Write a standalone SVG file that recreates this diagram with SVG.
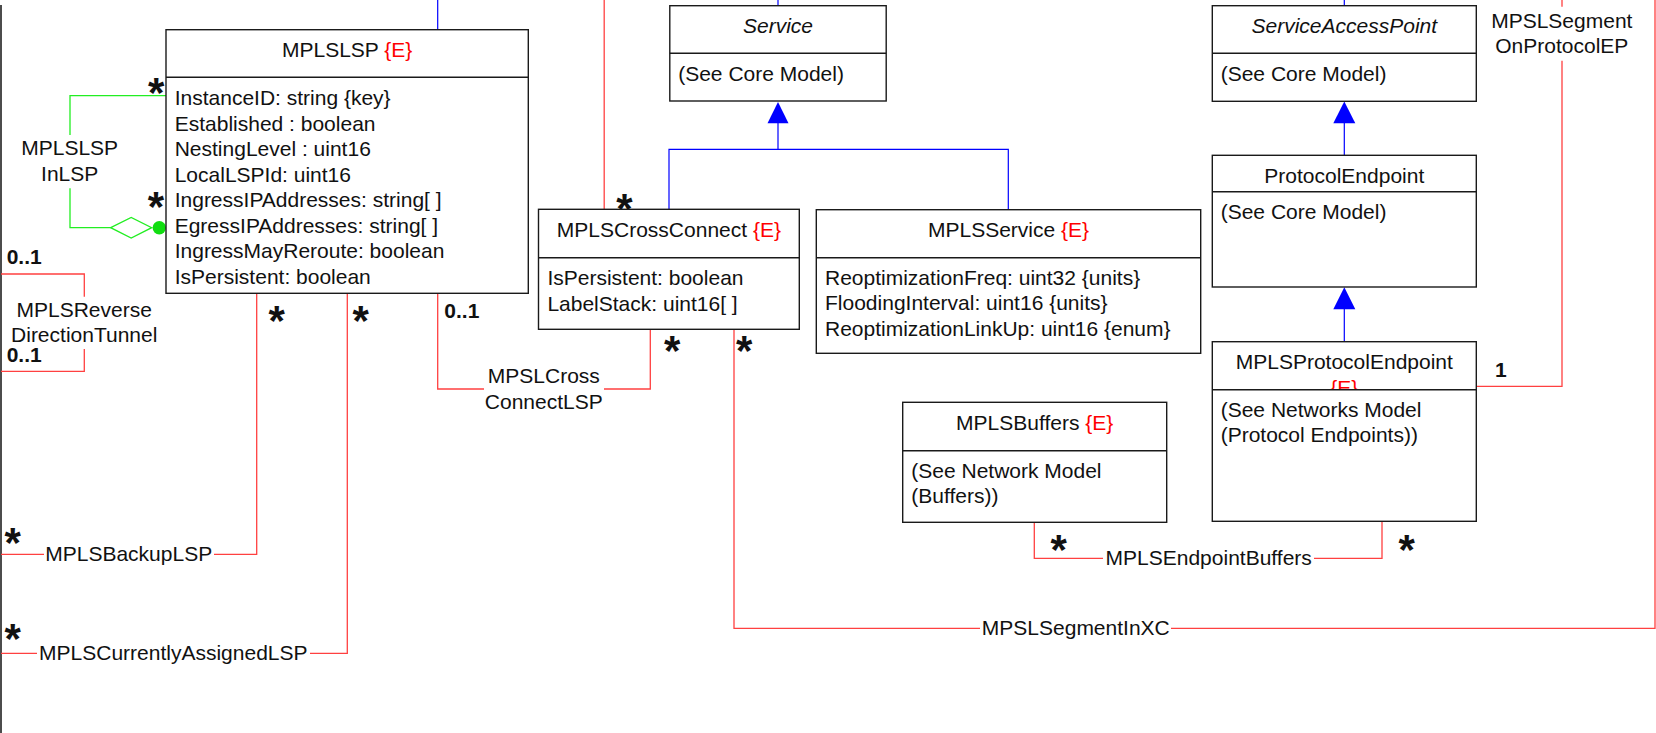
<svg xmlns="http://www.w3.org/2000/svg" width="1656" height="733" viewBox="0 0 1656 733">
<style>
.bg{fill:#fff}
.box{fill:#fff;stroke:#1a1a1a;stroke-width:1.4}
.div{stroke:#1a1a1a;stroke-width:1.4}
.t{font-family:"Liberation Sans",Arial,sans-serif;font-size:21px;fill:#111}
.c{text-anchor:middle}
.i{font-style:italic}
.e{fill:#ff0000}
.m{font-family:"Liberation Sans",Arial,sans-serif;font-size:21px;font-weight:bold;fill:#111}
.star{font-family:"Liberation Sans",Arial,sans-serif;font-size:42px;font-weight:bold;fill:#111;text-anchor:middle}
.red{stroke:#ff4040;stroke-width:1.3;fill:none}
.blue{stroke:#0000ff;stroke-width:1.2;fill:none}
.green{stroke:#22ee22;stroke-width:1.3;fill:none}
.arrow{fill:#0000ff;stroke:none}
</style>
<defs>
<clipPath id="clipPE"><rect x="1212" y="342" width="265" height="47.5"/></clipPath>
</defs>
<rect class="bg" x="0" y="0" width="1656" height="733"/>

<g id="connectors">
  <path d="M1,5 V733" stroke="#111" stroke-width="1.5" fill="none"/>
  <!-- blue top stubs -->
  <path class="blue" d="M437.7,0 V29.7"/>
  <path class="blue" d="M778,0 V5.7"/>
  <path class="blue" d="M1344.3,0 V5.7"/>
  <!-- generalization to Service -->
  <path class="blue" d="M669,209.3 V149.3 H1008.3 V209.7 M778,149.3 V123"/>
  <polygon class="arrow" points="778,102 767.5,123.3 788.5,123.3"/>
  <!-- generalization to ServiceAccessPoint -->
  <path class="blue" d="M1344.3,155.3 V123"/>
  <polygon class="arrow" points="1344.3,101.5 1333.3,123.3 1355.3,123.3"/>
  <!-- generalization to ProtocolEndpoint -->
  <path class="blue" d="M1344.3,341.7 V309"/>
  <polygon class="arrow" points="1344.3,287.2 1333.3,309.3 1355.3,309.3"/>

  <!-- MPLSLSPInLSP -->
  <path class="green" d="M166,95.7 H70 V135 M70,188.3 V227.7 H110.7"/>
  <polygon class="green" points="110.7,227.7 131.2,217.4 151.7,227.7 131.2,238" fill="#fff"/>
  <circle cx="159.3" cy="227.7" r="6.7" fill="#11dd11"/>

  <!-- red associations -->
  <path class="red" d="M1,274 H84.3 V296.7 M84.3,349 V371.3 H1"/>
  <path class="red" d="M256.7,293.3 V554.3 H214 M44,554.3 H1"/>
  <path class="red" d="M347.3,293.3 V653.3 H310 M37,653.3 H1"/>
  <path class="red" d="M437.7,293.3 V389 H484 M604,389 H650.3 V329.3"/>
  <path class="red" d="M734,329.3 V628.3 H980 M1171,628.3 H1655 V0"/>
  <path class="red" d="M1034.3,522.3 V558.3 H1103 M1314,558.3 H1382 V521.3"/>
  <path class="red" d="M1476.3,386.3 H1562 V60.7 M1562,6.7 V0"/>
  <path class="red" d="M604.2,0 V209.3"/>

  <!-- association labels -->
  <text class="t c" x="69.7" y="155">MPLSLSP</text>
  <text class="t c" x="69.7" y="180.7">InLSP</text>
  <text class="t c" x="84.2" y="316.7">MPLSReverse</text>
  <text class="t c" x="84.2" y="341.5">DirectionTunnel</text>
  <text class="t c" x="128.7" y="560.7">MPLSBackupLSP</text>
  <text class="t c" x="173.3" y="660">MPLSCurrentlyAssignedLSP</text>
  <text class="t c" x="543.8" y="382.7">MPSLCross</text>
  <text class="t c" x="543.8" y="408.7">ConnectLSP</text>
  <text class="t c" x="1075.8" y="635">MPSLSegmentInXC</text>
  <text class="t c" x="1208.7" y="565">MPLSEndpointBuffers</text>
  <text class="t c" x="1561.8" y="28.3">MPSLSegment</text>
  <text class="t c" x="1561.8" y="53.3">OnProtocolEP</text>

  <!-- multiplicities -->
  <text class="m" x="6.7" y="264">0..1</text>
  <text class="m" x="6.7" y="361.5">0..1</text>
  <text class="m" x="444.3" y="318.3">0..1</text>
  <text class="m" x="1495" y="377.3">1</text>
  <text class="star" x="156.2" y="106.5">*</text>
  <text class="star" x="156" y="221.4">*</text>
  <text class="star" x="276.7" y="334.9">*</text>
  <text class="star" x="360.7" y="334.9">*</text>
  <text class="star" x="12.7" y="556.5">*</text>
  <text class="star" x="12.7" y="652.5">*</text>
  <text class="star" x="624.4" y="222.5">*</text>
  <text class="star" x="672.3" y="364.9">*</text>
  <text class="star" x="744.3" y="364.9">*</text>
  <text class="star" x="1058.7" y="563.9">*</text>
  <text class="star" x="1406.7" y="563.9">*</text>
</g>

<g id="MPLSLSP">
  <rect class="box" x="166" y="29.7" width="362.3" height="263.6"/>
  <line class="div" x1="166" y1="77.3" x2="528.3" y2="77.3"/>
  <text class="t c" x="347.2" y="57.3">MPLSLSP <tspan class="e">{E}</tspan></text>
  <text class="t" x="174.7" y="105.3">InstanceID: string {key}</text>
  <text class="t" x="174.7" y="130.8">Established : boolean</text>
  <text class="t" x="174.7" y="156.3">NestingLevel : uint16</text>
  <text class="t" x="174.7" y="181.8">LocalLSPId: uint16</text>
  <text class="t" x="174.7" y="207.3">IngressIPAddresses: string[ ]</text>
  <text class="t" x="174.7" y="232.8">EgressIPAddresses: string[ ]</text>
  <text class="t" x="174.7" y="258.3">IngressMayReroute: boolean</text>
  <text class="t" x="174.7" y="283.8">IsPersistent: boolean</text>
</g>

<g id="Service">
  <rect class="box" x="669.8" y="5.7" width="216.4" height="95.3"/>
  <line class="div" x1="669.8" y1="53.3" x2="886.2" y2="53.3"/>
  <text class="t c i" x="778" y="33.3">Service</text>
  <text class="t" x="678.2" y="81">(See Core Model)</text>
</g>

<g id="ServiceAccessPoint">
  <rect class="box" x="1212.3" y="5.7" width="264" height="95.6"/>
  <line class="div" x1="1212.3" y1="53.3" x2="1476.3" y2="53.3"/>
  <text class="t c i" x="1344.3" y="33.3">ServiceAccessPoint</text>
  <text class="t" x="1220.7" y="81">(See Core Model)</text>
</g>

<g id="ProtocolEndpoint">
  <rect class="box" x="1212.3" y="155.3" width="264" height="131.7"/>
  <line class="div" x1="1212.3" y1="191.7" x2="1476.3" y2="191.7"/>
  <text class="t c" x="1344.3" y="183.3">ProtocolEndpoint</text>
  <text class="t" x="1220.7" y="219">(See Core Model)</text>
</g>

<g id="MPLSCrossConnect">
  <rect class="box" x="538.5" y="209.3" width="260.8" height="120"/>
  <line class="div" x1="538.5" y1="257.7" x2="799.3" y2="257.7"/>
  <text class="t c" x="668.9" y="236.7">MPLSCrossConnect <tspan class="e">{E}</tspan></text>
  <text class="t" x="547.4" y="285">IsPersistent: boolean</text>
  <text class="t" x="547.4" y="310.6">LabelStack: uint16[ ]</text>
</g>

<g id="MPLSService">
  <rect class="box" x="816.3" y="209.7" width="384.4" height="143.6"/>
  <line class="div" x1="816.3" y1="257.7" x2="1200.7" y2="257.7"/>
  <text class="t c" x="1008.5" y="237.3">MPLSService <tspan class="e">{E}</tspan></text>
  <text class="t" x="825" y="285">ReoptimizationFreq: uint32 {units}</text>
  <text class="t" x="825" y="310.3">FloodingInterval: uint16 {units}</text>
  <text class="t" x="825" y="335.7">ReoptimizationLinkUp: uint16 {enum}</text>
</g>

<g id="MPLSBuffers">
  <rect class="box" x="902.7" y="402.3" width="264" height="120"/>
  <line class="div" x1="902.7" y1="450.7" x2="1166.7" y2="450.7"/>
  <text class="t c" x="1034.7" y="430">MPLSBuffers <tspan class="e">{E}</tspan></text>
  <text class="t" x="911.3" y="477.7">(See Network Model</text>
  <text class="t" x="911.3" y="502.7">(Buffers))</text>
</g>

<g id="MPLSProtocolEndpoint">
  <rect class="box" x="1212.3" y="341.7" width="264" height="179.6"/>
  <text class="t c" x="1344.3" y="369.3">MPLSProtocolEndpoint</text>
  <text class="t c e" x="1344.3" y="395" clip-path="url(#clipPE)">{E}</text>
  <line class="div" x1="1212.3" y1="389.7" x2="1476.3" y2="389.7"/>
  <text class="t" x="1220.7" y="416.7">(See Networks Model</text>
  <text class="t" x="1220.7" y="442">(Protocol Endpoints))</text>
</g>
</svg>
